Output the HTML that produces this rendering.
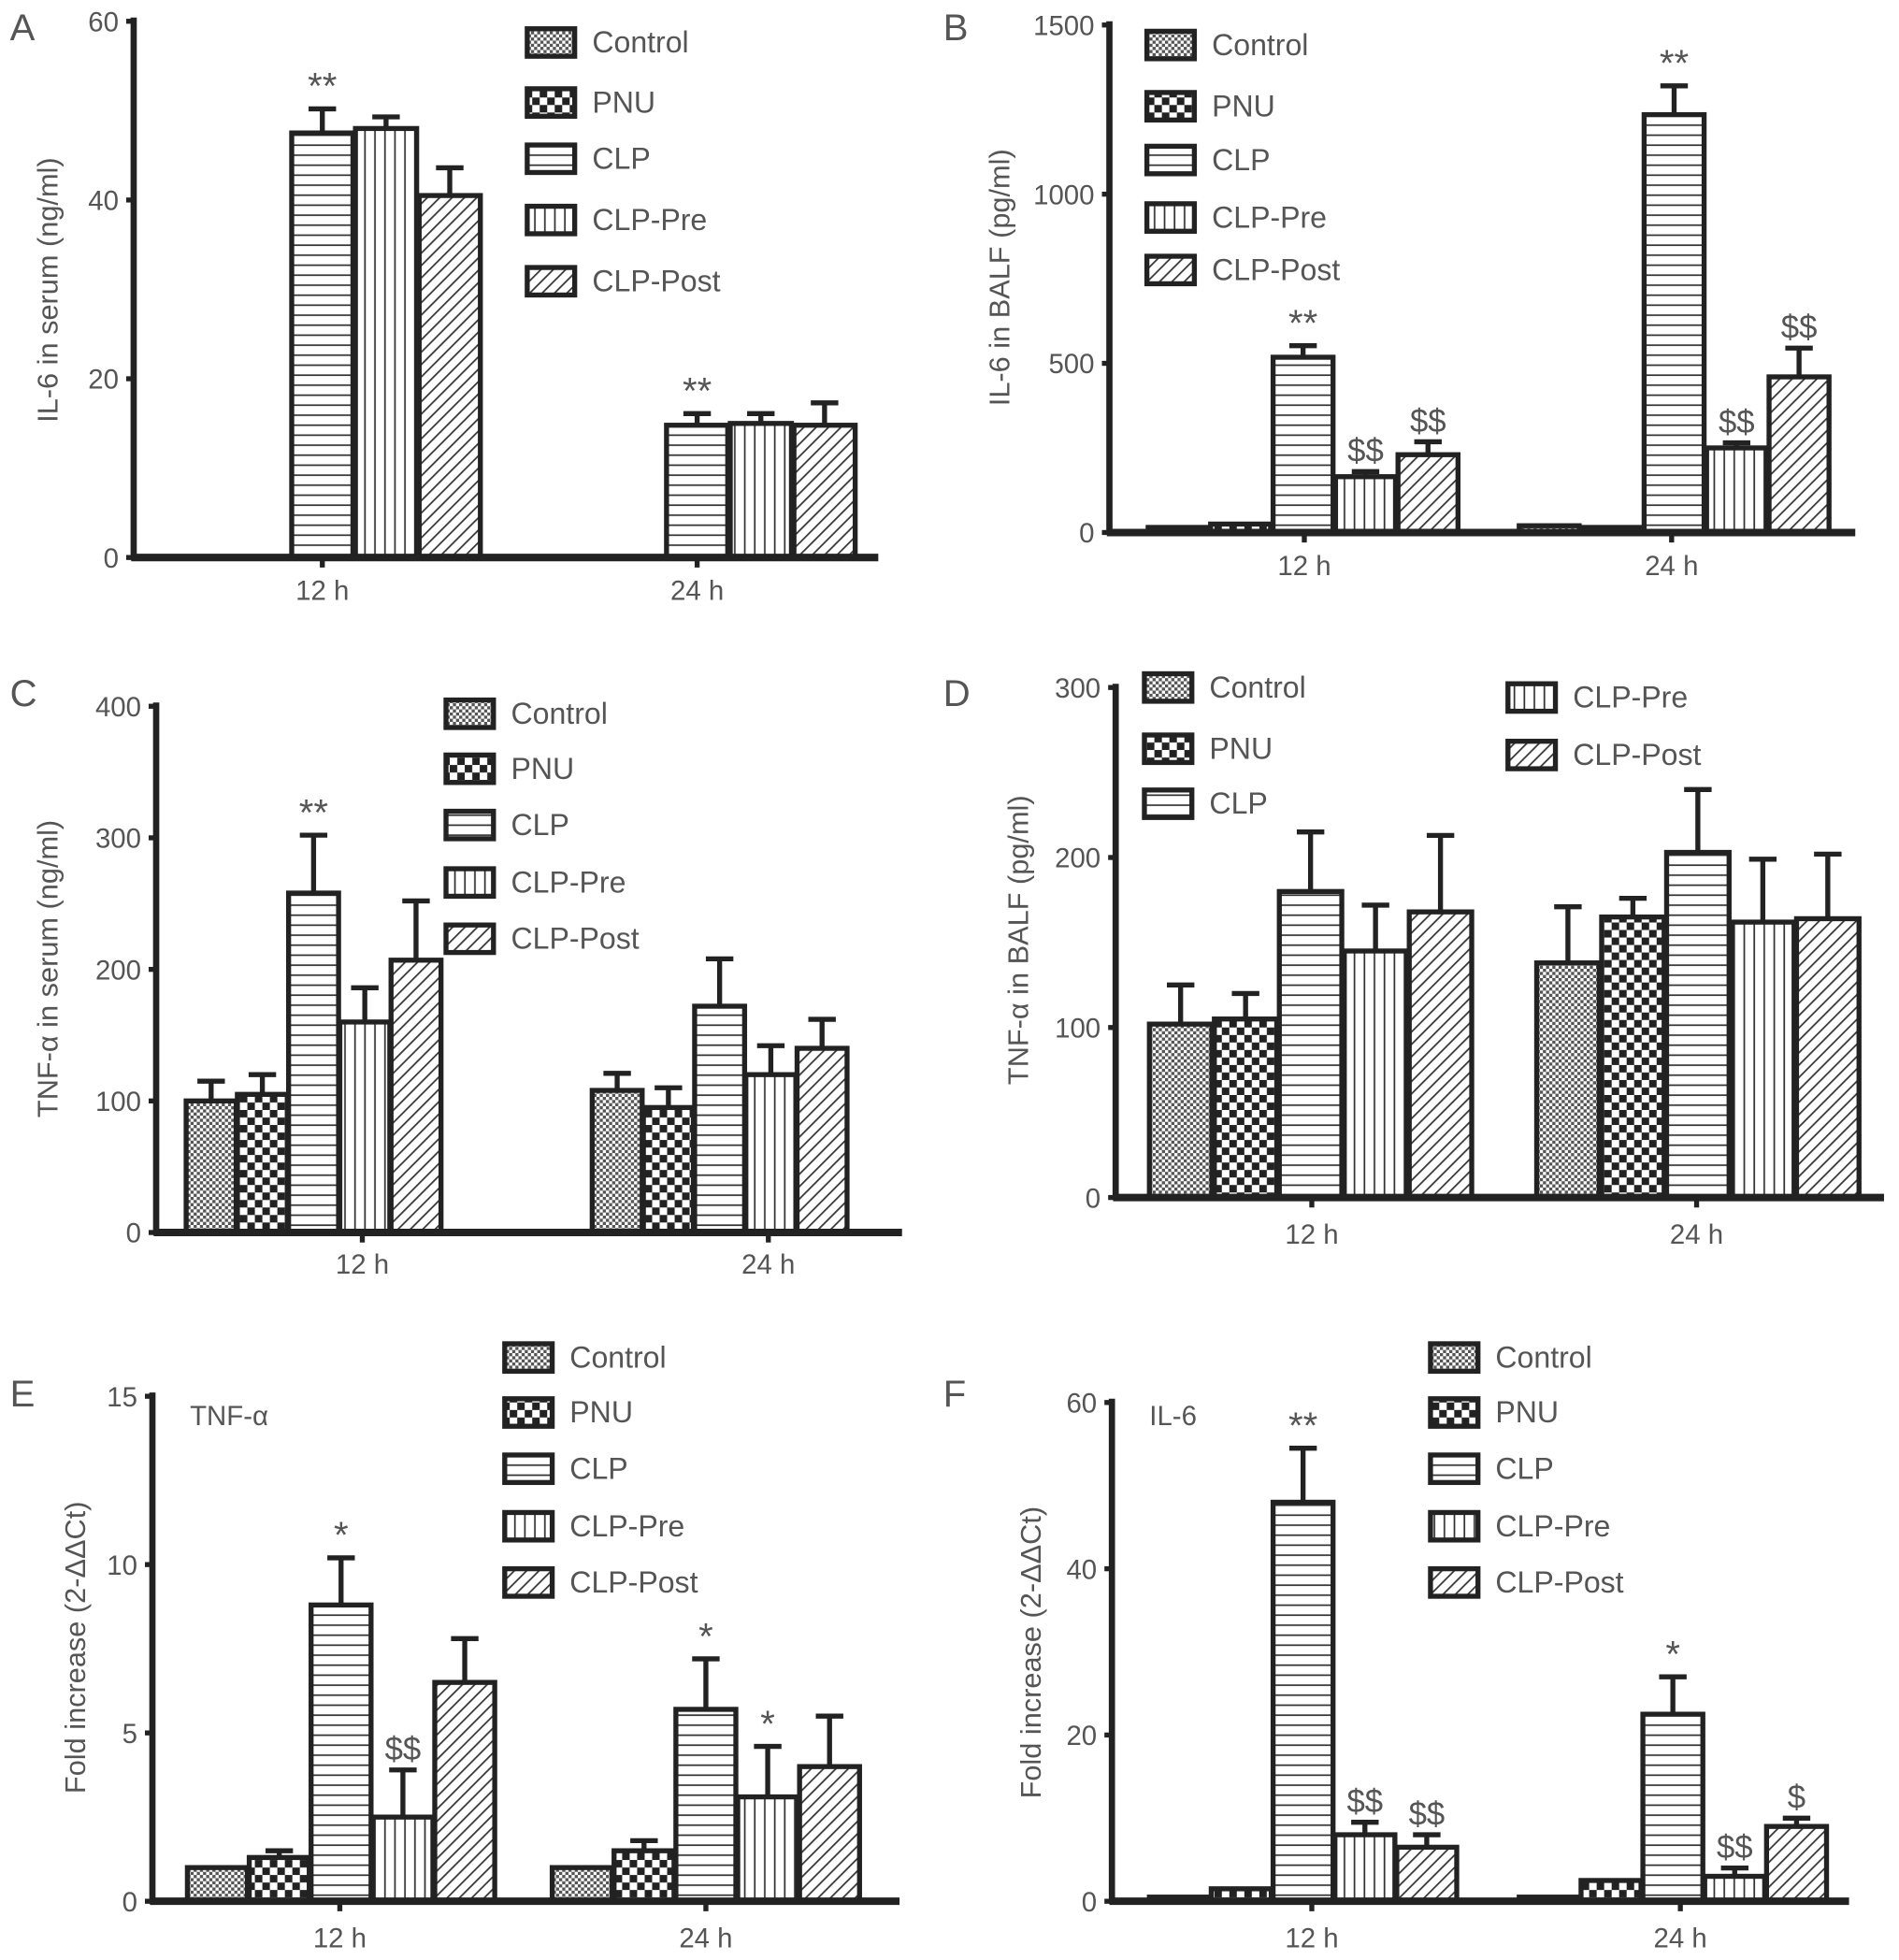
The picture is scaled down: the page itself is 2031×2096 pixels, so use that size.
<!DOCTYPE html>
<html><head><meta charset="utf-8"><style>
html,body{margin:0;padding:0;background:#fff;}
svg{display:block;}
text{font-family:"Liberation Sans",sans-serif;fill:#555;}
</style></head><body>
<svg id="fig" width="2031" height="2096" viewBox="0 0 1520 1568" preserveAspectRatio="none" xmlns="http://www.w3.org/2000/svg">
<defs>
<pattern id="p0" width="5" height="5" patternUnits="userSpaceOnUse"><rect width="5" height="5" fill="#fff"/><rect width="2.5" height="2.5" fill="#555"/><rect x="2.5" y="2.5" width="2.5" height="2.5" fill="#555"/></pattern>
<pattern id="p1" width="12" height="12" patternUnits="userSpaceOnUse"><rect width="12" height="12" fill="#fff"/><rect width="6" height="6" fill="#222"/><rect x="6" y="6" width="6" height="6" fill="#222"/></pattern>
<pattern id="p2" width="8" height="8" patternUnits="userSpaceOnUse"><rect width="8" height="8" fill="#fff"/><rect y="3.5" width="8" height="1.3" fill="#333"/></pattern>
<pattern id="p3" width="8" height="8" patternUnits="userSpaceOnUse"><rect width="8" height="8" fill="#fff"/><rect x="3.5" width="1.3" height="8" fill="#333"/></pattern>
<pattern id="p4" width="7" height="7" patternUnits="userSpaceOnUse" patternTransform="rotate(45)"><rect width="7" height="7" fill="#fff"/><rect x="3" width="1.3" height="7" fill="#333"/></pattern>
</defs>
</svg>
<script>
const groups = ["12 h", "24 h"];
const seriesNames = ["Control", "PNU", "CLP", "CLP-Pre", "CLP-Post"];
// Panel A
const aTicks = [0, 20, 40, 60];
const aVals12 = [0, 0, 47.5, 48, 40.5];
const aErr12 = [0, 0, 50.2, 49.3, 43.6];
const aVals24 = [0, 0, 14.8, 15, 14.8];
const aErr24 = [0, 0, 16.1, 16.1, 17.3];
const aMarks12 = ["", "", "**", "", ""];
const aMarks24 = ["", "", "**", "", ""];
// Panel B
const bTicks = [0, 500, 1000, 1500];
const bVals12 = [15, 25, 518, 165, 230];
const bErr12 = [15, 25, 552, 180, 268];
const bVals24 = [20, 15, 1235, 250, 460];
const bErr24 = [20, 15, 1320, 265, 545];
const bMarks12 = ["", "", "**", "$$", "$$"];
const bMarks24 = ["", "", "**", "$$", "$$"];
// Panel C
const cTicks = [0, 100, 200, 300, 400];
const cVals12 = [100, 105, 258, 160, 207];
const cErr12 = [115, 120, 302, 186, 252];
const cVals24 = [108, 95, 172, 120, 140];
const cErr24 = [121, 110, 208, 142, 162];
const cMarks12 = ["", "", "**", "", ""];
const cMarks24 = ["", "", "", "", ""];
// Panel D
const dTicks = [0, 100, 200, 300];
const dVals12 = [102, 105, 180, 145, 168];
const dErr12 = [125, 120, 215, 172, 213];
const dVals24 = [138, 165, 203, 162, 164];
const dErr24 = [171, 176, 240, 199, 202];
const dMarks12 = ["", "", "", "", ""];
const dMarks24 = ["", "", "", "", ""];
// Panel E
const eTicks = [0, 5, 10, 15];
const eVals12 = [1, 1.3, 8.8, 2.5, 6.5];
const eErr12 = [1, 1.5, 10.2, 3.9, 7.8];
const eVals24 = [1, 1.5, 5.7, 3.1, 4.0];
const eErr24 = [1, 1.8, 7.2, 4.6, 5.5];
const eMarks12 = ["", "", "*", "$$", ""];
const eMarks24 = ["", "", "*", "*", ""];
// Panel F
const fTicks = [0, 20, 40, 60];
const fVals12 = [0.5, 1.5, 48, 8, 6.5];
const fErr12 = [0.5, 1.5, 54.5, 9.5, 8];
const fVals24 = [0.5, 2.5, 22.5, 3, 9];
const fErr24 = [0.5, 2.5, 27, 4, 10];
const fMarks12 = ["", "", "**", "$$", "$$"];
const fMarks24 = ["", "", "*", "$$", "$"];

const NS = "http://www.w3.org/2000/svg";
const svg = document.getElementById("fig");
function mk(tag, attrs, parent, txt) {
  const e = document.createElementNS(NS, tag);
  for (const k in attrs) e.setAttribute(k, attrs[k]);
  if (txt !== undefined) e.textContent = txt;
  (parent || svg).appendChild(e);
  return e;
}

const panels = [
 {id:"a", letter:"A", lx:8, ly:32, ax:107, top:17, zero:446, xEnd:703, max:60, ticks:aTicks,
  vals:[aVals12,aVals24], errs:[aErr12,aErr24], marks:[aMarks12,aMarks24],
  first:[156,456], step:51, bw:49, labelX:[258,558], labelY:480,
  title:"IL-6 in serum (ng/ml)", tx:38, ty:232,
  legend:[[422,34],[422,82],[422,127],[422,176],[422,225]]},
 {id:"b", letter:"B", lx:755, ly:32, ax:888, top:20, zero:426, xEnd:1485, max:1500, ticks:bTicks,
  vals:[bVals12,bVals24], errs:[bErr12,bErr24], marks:[bMarks12,bMarks24],
  first:[943,1240], step:50, bw:48, labelX:[1044,1338], labelY:460,
  title:"IL-6 in BALF (pg/ml)", tx:800, ty:222,
  legend:[[918,36],[918,85],[918,128],[918,174],[918,216]]},
 {id:"c", letter:"C", lx:8, ly:565, ax:125, top:565, zero:986, xEnd:722, max:400, ticks:cTicks,
  vals:[cVals12,cVals24], errs:[cErr12,cErr24], marks:[cMarks12,cMarks24],
  first:[169,494], step:41, bw:40, labelX:[290,615], labelY:1019,
  title:"TNF-\u03b1 in serum (ng/ml)", tx:38, ty:775,
  legend:[[357,571],[357,615],[357,660],[357,706],[357,751]]},
 {id:"d", letter:"D", lx:755, ly:565, ax:893, top:550, zero:958, xEnd:1508, max:300, ticks:dTicks,
  vals:[dVals12,dVals24], errs:[dErr12,dErr24], marks:[dMarks12,dMarks24],
  first:[945,1255], step:52, bw:50, labelX:[1050,1358], labelY:995,
  title:"TNF-\u03b1 in BALF (pg/ml)", tx:815, ty:752,
  legend:[[916,550],[916,599],[916,643],[1207,558],[1207,604]]},
 {id:"e", letter:"E", lx:8, ly:1125, ax:122, top:1117, zero:1521, xEnd:720, max:15, ticks:eTicks,
  vals:[eVals12,eVals24], errs:[eErr12,eErr24], marks:[eMarks12,eMarks24],
  first:[174,466], step:49.5, bw:48, labelX:[272,565], labelY:1558,
  title:"Fold increase (2-\u0394\u0394Ct)", tx:60, ty:1318, inner:"TNF-\u03b1", ix:152, iy:1140,
  legend:[[404,1086],[404,1130],[404,1175],[404,1221],[404,1266]]},
 {id:"f", letter:"F", lx:755, ly:1125, ax:890, top:1122, zero:1521, xEnd:1480, max:60, ticks:fTicks,
  vals:[fVals12,fVals24], errs:[fErr12,fErr24], marks:[fMarks12,fMarks24],
  first:[944,1240], step:49.5, bw:48, labelX:[1050,1345], labelY:1558,
  title:"Fold increase (2-\u0394\u0394Ct)", tx:825, ty:1322, inner:"IL-6", ix:920, iy:1140,
  legend:[[1145,1086],[1145,1130],[1145,1175],[1145,1221],[1145,1266]]}
];

panels.forEach(p => {
  const g = mk("g", {});
  
  
  const y = v => p.zero - (v / p.max) * (p.zero - p.top);
  const L = mk("text", {x:p.lx, y:p.ly, "font-size":30}, g, p.letter);
  
  
  p.vals.forEach((vals, gi) => {
    vals.forEach((v, si) => {
      const cx = p.first[gi] + si * p.step;
      const yt = y(v), ye = y(p.errs[gi][si]);
      if (ye < yt - 1) {
        const eb = mk("path", {d:`M${cx} ${yt} V${ye} M${cx-11} ${ye} H${cx+11}`, stroke:"#222", "stroke-width":4, fill:"none"}, g);
        
        
      }
      const h = Math.max(p.zero - yt, 0);
      const r = mk("rect", {x:cx - p.bw/2, y:yt, width:p.bw, height:h, fill:`url(#p${si})`, stroke:"#222", "stroke-width":4}, g);
      
      
      const m = p.marks[gi][si];
      if (m) {
        const t = mk("text", {x:cx, y:ye - 8, "font-size":m.indexOf("$")>=0?26:30, "text-anchor":"middle"}, g, m);
        
        
      }
    });
  });
  const ya = mk("line", {x1:p.ax, y1:p.top-3, x2:p.ax, y2:p.zero+2, stroke:"#222", "stroke-width":5}, g);
  
  
  const xa = mk("line", {x1:p.ax-2, y1:p.zero, x2:p.xEnd, y2:p.zero, stroke:"#222", "stroke-width":6}, g);
  
  
  p.ticks.forEach(tv => {
    const ty = y(tv);
    mk("line", {x1:p.ax-6, y1:ty, x2:p.ax, y2:ty, stroke:"#222", "stroke-width":4}, g);
    const t = mk("text", {x:p.ax-12, y:ty+8, "font-size":22, "text-anchor":"end"}, g, String(tv));
    
    
  });
  groups.forEach((gn, gi) => {
    mk("line", {x1:p.labelX[gi], y1:p.zero, x2:p.labelX[gi], y2:p.zero+8, stroke:"#222", "stroke-width":4}, g);
    const t = mk("text", {x:p.labelX[gi], y:p.labelY, "font-size":22, "text-anchor":"middle"}, g, gn);
    
    
  });
  const yt = mk("text", {x:p.tx, y:p.ty, "font-size":23, "text-anchor":"middle", transform:`rotate(-90 ${p.tx} ${p.ty})`, dy:8}, g, p.title);
  
  
  if (p.inner) {
    const it = mk("text", {x:p.ix, y:p.iy, "font-size":22}, g, p.inner);
    
    
  }
  p.legend.forEach((pos, si) => {
    const lg = mk("g", {}, g);
    
    
    mk("rect", {x:pos[0], y:pos[1]-11, width:38, height:22, fill:`url(#p${si})`, stroke:"#222", "stroke-width":4}, lg);
    mk("text", {x:pos[0]+52, y:pos[1]+8, "font-size":24}, lg, seriesNames[si]);
  });
});
</script>
</body></html>
